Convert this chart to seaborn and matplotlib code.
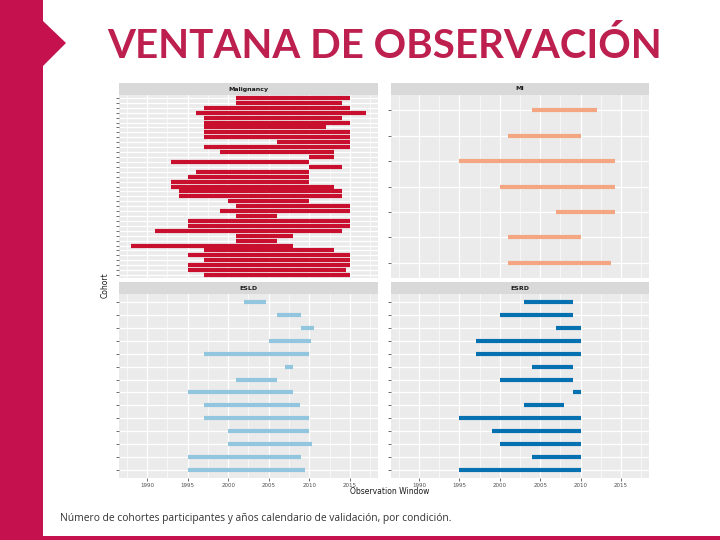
import matplotlib
matplotlib.use("Agg")
import matplotlib.pyplot as plt
from matplotlib.patches import Rectangle, Polygon
from matplotlib.ticker import MultipleLocator
import pandas as pd
import seaborn as sns

# cohort observation windows per condition (top row first)
conditions = ["Malignancy", "MI", "ESLD", "ESRD"]
colors = ["#C8102E", "#F4A582", "#92C5DE", "#0571B0"]

mal_start = [2001, 2001, 1997, 1996, 1997, 1997, 1997, 1997, 1997, 2006, 1997, 1999, 2010,
             1993, 2010, 1996, 1995, 1993, 1993, 1994, 1994, 2000, 2001, 1999, 2001, 1995,
             1995, 1991, 2001, 2001, 1988, 1997, 1995, 1997, 1995, 1995, 1997]
mal_end = [2015, 2014, 2015, 2017, 2014, 2015, 2012, 2015, 2015, 2015, 2015, 2013, 2013,
           2010, 2014, 2010, 2010, 2010, 2013, 2014, 2014, 2010, 2015, 2015, 2006, 2015,
           2015, 2014, 2008, 2006, 2008, 2013, 2015, 2015, 2015, 2014.5, 2015]

mi_start = [2004, 2001, 1995, 2000, 2007, 2001, 2001]
mi_end = [2012, 2010, 2014.3, 2014.3, 2014.3, 2010, 2013.7]

esld_start = [2002, 2006, 2009, 2005, 1997, 2007, 2001, 1995, 1997, 1997, 2000, 2000, 1995, 1995]
esld_end = [2004.6, 2009, 2010.6, 2010.2, 2010, 2008, 2006, 2008, 2008.8, 2010, 2010, 2010.3,
            2009, 2009.5]

esrd_start = [2003, 2000, 2007, 1997, 1997, 2004, 2000, 2009, 2003, 1995, 1999, 2000, 2004, 1995]
esrd_end = [2009, 2009, 2010, 2010, 2010, 2009, 2009, 2010, 2008, 2010, 2010, 2010, 2010, 2010]

year_ticks = [1990, 1995, 2000, 2005, 2010, 2015]

windows = {
    "Malignancy": (mal_start, mal_end),
    "MI": (mi_start, mi_end),
    "ESLD": (esld_start, esld_end),
    "ESRD": (esrd_start, esrd_end),
}

records = []
for cond, (starts, ends) in windows.items():
    for i, (s, e) in enumerate(zip(starts, ends)):
        records.append({"condition": cond, "row": i, "year": s})
        records.append({"condition": cond, "row": i, "year": e})
df = pd.DataFrame(records)

sns.set_theme(style="darkgrid", rc={"axes.facecolor": "#EBEBEB", "grid.color": "white"})
plt.rcParams["font.family"] = ["DejaVu Sans"]

fig = plt.figure(figsize=(7.2, 5.4), dpi=100)
fig.patch.set_facecolor("white")

W, H = 720.0, 540.0
MAGENTA = "#C5114E"

# slide decoration
fig.patches.append(Rectangle((0, 0), 43 / W, 1, transform=fig.transFigure,
                             facecolor=MAGENTA, edgecolor="none"))
fig.patches.append(Polygon([(43 / W, 1 - 21 / H), (66 / W, 1 - 43 / H), (43 / W, 1 - 66 / H)],
                           closed=True, transform=fig.transFigure,
                           facecolor=MAGENTA, edgecolor="none"))
fig.patches.append(Rectangle((0, 0), 1, 4 / H, transform=fig.transFigure,
                             facecolor=MAGENTA, edgecolor="none"))

fig.text(385 / W, 1 - 46 / H, "VENTANA DE OBSERVACIÓN", ha="center", va="center",
         fontsize=29, color="#BD1F4F", family=["Lato", "DejaVu Sans"], fontweight="bold")
fig.text(60 / W, 1 - 518 / H,
         "Número de cohortes participantes y años calendario de validación, por condición.",
         ha="left", va="center", fontsize=7.4, color="#333333",
         family=["Open Sans", "DejaVu Sans"])

# panel boxes in pixel coordinates: (left, top, right, bottom)
panels = {
    "Malignancy": (119, 95, 378, 278),
    "MI": (391, 95, 649, 278),
    "ESLD": (119, 294, 378, 478),
    "ESRD": (391, 294, 649, 478),
}
strip_h = 12

xmin = min(df["year"])
xmax = max(df["year"])
pad = (xmax - xmin) * 0.05

for cond, color in zip(conditions, colors):
    l, t, r, b = panels[cond]
    ax = fig.add_axes([l / W, 1 - b / H, (r - l) / W, (b - t) / H])
    sub = df[df["condition"] == cond]
    sns.lineplot(data=sub, x="year", y="row", units="row", estimator=None, sort=False,
                 color=color, linewidth=3.0, solid_capstyle="butt", legend=False, ax=ax)
    n = sub["row"].nunique()
    ax.set_ylim(n - 1 + 0.6, -0.6)
    ax.set_xlim(xmin - pad, xmax + pad)
    ax.set_yticks(range(n))
    ax.set_yticklabels([])
    ax.set_xticks(year_ticks)
    ax.xaxis.set_minor_locator(MultipleLocator(2.5))
    ax.grid(which="major", color="white", linewidth=0.9)
    ax.grid(which="minor", axis="x", color="white", linewidth=0.45)
    ax.set_xlabel("")
    ax.set_ylabel("")
    for sp in ax.spines.values():
        sp.set_visible(False)
    ax.tick_params(axis="y", which="major", left=True, length=2, width=0.5, color="#333333",
                   pad=1)
    if cond in ("ESLD", "ESRD"):
        ax.tick_params(axis="x", which="major", bottom=True, length=2, width=0.5,
                       color="#333333", labelsize=4, labelcolor="#4D4D4D", pad=1.5)
    else:
        ax.tick_params(axis="x", which="both", bottom=False, labelbottom=False)
    ax.tick_params(axis="x", which="minor", bottom=False)

    sax = fig.add_axes([l / W, 1 - t / H, (r - l) / W, strip_h / H])
    sax.set_facecolor("#D9D9D9")
    sax.set_xticks([])
    sax.set_yticks([])
    sax.grid(False)
    for sp in sax.spines.values():
        sp.set_visible(False)
    sax.text(0.5, 0.5, cond, ha="center", va="center", fontsize=4.5, color="#1A1A1A",
             fontweight="bold", transform=sax.transAxes)

fig.text(390 / W, 1 - 491 / H, "Observation Window", ha="center", va="center",
         fontsize=5.5, color="#1A1A1A")
fig.text(105 / W, 1 - 285 / H, "Cohort", ha="center", va="center", rotation=90,
         fontsize=5.5, color="#1A1A1A")

fig.savefig("out.png", dpi=100, facecolor="white")
plt.close(fig)
